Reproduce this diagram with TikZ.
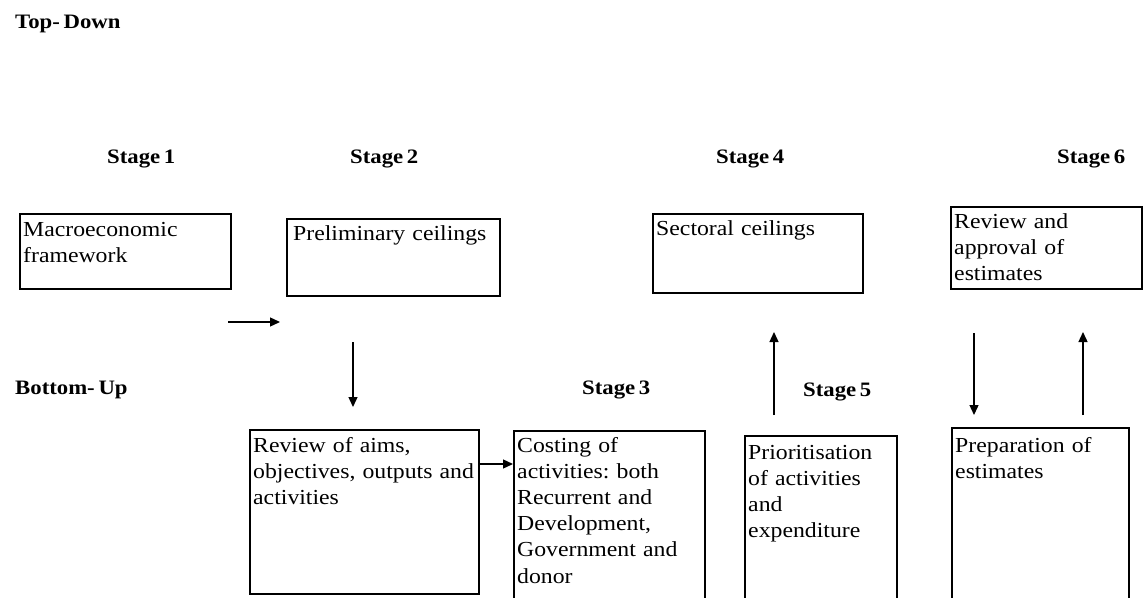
\documentclass[tikz,border=0pt]{standalone}
\usepackage{fontspec}
\setmainfont{Liberation Serif}[FakeStretch=1.11]
\frenchspacing
\usetikzlibrary{arrows.meta}
\newcommand\boxfontsetup{\fontsize{21.4}{26.2}\selectfont}
\newcommand\labelfontsetup{\fontsize{20.5}{24}\selectfont\bfseries\fontdimen2\font 0.18em\relax}
\tikzset{
  boxframe/.style={draw=black, line width=1.8pt, inner sep=0pt, anchor=north west},
  boxtext/.style={anchor=base west, inner sep=0pt, text width=250pt, align=left,
    font=\boxfontsetup},
  stagelabel/.style={anchor=base west, inner sep=0pt, font=\labelfontsetup},
  flow/.style={line width=1.3pt, -{Triangle[length=10pt,width=9pt]}}
}
\begin{document}
\begin{tikzpicture}[x=1pt,y=-1pt]
\useasboundingbox (0,0) rectangle (1143,597);
\clip (0,0) rectangle (1143,597);
\fill[white] (0,0) rectangle (1143,597);

% headings
\node[stagelabel] (td) at (15,28) {Top- Down};
\node[stagelabel] (bu) at (15,394) {Bottom- Up};
\node[stagelabel] (s1) at (107,163) {Stage 1};
\node[stagelabel] (s2) at (350,163) {Stage 2};
\node[stagelabel] (s4) at (716,163) {Stage 4};
\node[stagelabel] (s6) at (1057,163) {Stage 6};
\node[stagelabel] (s3) at (582,394) {Stage 3};
\node[stagelabel] (s5) at (803,396) {Stage 5};

% top boxes
\node[boxframe, minimum width=211pt, minimum height=75pt] (b1) at (19,213) {};
\node[boxframe, minimum width=213pt, minimum height=77pt] (b2) at (286,218) {};
\node[boxframe, minimum width=210pt, minimum height=79pt] (b4) at (652,213) {};
\node[boxframe, minimum width=191pt, minimum height=82pt] (b6) at (950,206) {};

\node[boxtext] (t1) at (23,236) {Macroeconomic\\framework};
\node[boxtext] (t2) at (293,240) {Preliminary ceilings};
\node[boxtext] (t4) at (656,235) {Sectoral ceilings};
\node[boxtext] (t6) at (954,228) {Review and\\approval of\\estimates};

% bottom boxes
\node[boxframe, minimum width=229pt, minimum height=164pt] (b7) at (249,429) {};
\node[boxframe, minimum width=191pt, minimum height=200pt] (b3) at (513,430) {};
\node[boxframe, minimum width=152pt, minimum height=200pt] (b5) at (744,435) {};
\node[boxframe, minimum width=177pt, minimum height=200pt] (b8) at (951,427) {};

\node[boxtext] (t7) at (253,452) {Review of aims,\\objectives, outputs and\\activities};
\node[boxtext] (t3) at (517,452) {Costing of\\activities: both\\Recurrent and\\Development,\\Government and\\donor};
\node[boxtext] (t5) at (748,459) {Prioritisation\\of activities\\and\\expenditure};
\node[boxtext] (t8) at (955,452) {Preparation of\\estimates};

% arrow end points
\coordinate (a1s) at (228,322);
\coordinate (a1e) at (280,322);
\coordinate (a2s) at (353,342);
\coordinate (a2e) at (353,407);
\coordinate (a4s) at (774,415);
\coordinate (a4e) at (774,332);
\coordinate (a5s) at (974,333);
\coordinate (a5e) at (974,415);
\coordinate (a6s) at (1083,415);
\coordinate (a6e) at (1083,332);

\draw[flow] (a1s) -- (a1e);
\draw[flow] (a2s) -- (a2e);
\draw[flow] (b7.east |- 0,464) -- (b3.west |- 0,464);
\draw[flow] (a4s) -- (a4e);
\draw[flow] (a5s) -- (a5e);
\draw[flow] (a6s) -- (a6e);
\end{tikzpicture}
\end{document}
